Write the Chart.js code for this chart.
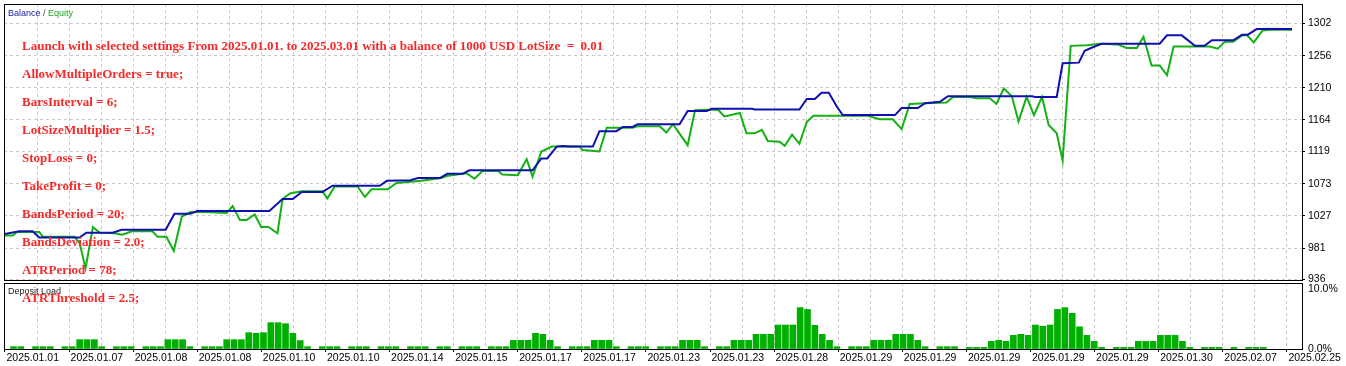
<!DOCTYPE html>
<html>
<head>
<meta charset="utf-8">
<script src="https://cdn.jsdelivr.net/npm/chart.js@4.4.1/dist/chart.umd.min.js"></script>
<style>
  html, body { margin: 0; padding: 0; background: #fff; }
  #wrap { position: relative; width: 1346px; height: 366px; overflow: hidden; }
  canvas { position: absolute; left: 0; }
  #main { top: 0; }
  #load { top: 282px; }
  .note { position: absolute; left: 22px; font: bold 13px "Liberation Serif", "Times New Roman", serif; color: #f52a2a; line-height: 13px; white-space: pre; }
</style>
</head>
<body>
<div id="wrap">
  <canvas id="main" width="1346" height="282"></canvas>
  <canvas id="load" width="1346" height="84"></canvas>
  <div id="notes"></div>
</div>
<script>
// x = deal slot, y = account value
const balance = [[-1.2,1001],[0.8,1005],[2.6,1005],[3.5,996],[9.0,996],[9.9,1003],[13.5,1003],[14.7,1007],[20.7,1007],
  [21.9,1030],[24.0,1030],[25.0,1034],[34.8,1034],[36.6,1051],[38.0,1051],[39.2,1061],[42.0,1061],[43.4,1070],[49.8,1070],
  [50.8,1077],[54.0,1078],[55.0,1081],[58.0,1081],[59.0,1087],[61.1,1087],[62.0,1092],[70.6,1092],[71.8,1109],[72.6,1109],
  [73.9,1126],[74.7,1127],[75.6,1126],[78.8,1126],[79.7,1148],[82.0,1148],[82.9,1154],[84.2,1154],[84.9,1158],[90.6,1158],
  [91.7,1177],[94.3,1177],[95.0,1180],[100.5,1180],[100.8,1179],[106.9,1179],[107.9,1194],[109.0,1194],[109.9,1203],
  [110.9,1203],[112.0,1183],[112.8,1171],[119.9,1171],[120.8,1181],[123.0,1181],[124.0,1188],[126.0,1190],[127.1,1198],
  [138.6,1198],[138.9,1197],[141.9,1197],[142.7,1245],[144.9,1246],[145.7,1263],[146.8,1268],[148.0,1273],[155.9,1273],
  [156.9,1285],[158.9,1285],[160.7,1270],[162.0,1270],[163.0,1278],[165.9,1278],[167.1,1286],[167.9,1286],[169.1,1294],[173.9,1294]];

const equity = [[-1.2,999],[-0.1,999],[0.5,1004],[3.5,1004],[4.0,997],[8.3,997],[9.0,988],[9.8,952],[10.8,1011],[11.7,1003],
  [13.7,1002],[14.8,1000],[16.1,1005],[18.9,1005],[19.6,997],[20.8,997],[21.8,977],[22.9,1026],[24.0,1032],[25.3,1033],
  [29.0,1031],[29.8,1041],[30.8,1021],[31.7,1021],[32.8,1029],[33.7,1011],[34.7,1011],[35.9,1002],[36.6,1051],[37.6,1059],
  [39.2,1062],[42.0,1062],[42.7,1052],[43.7,1069],[46.8,1069],[47.8,1054],[48.7,1065],[50.9,1065],[52.1,1074],[55.5,1077],
  [58.2,1081],[58.9,1084],[61.6,1088],[62.7,1080],[63.8,1091],[65.9,1091],[66.5,1086],[68.6,1085],[69.8,1108],[70.6,1083],
  [71.8,1119],[73.2,1126],[77.0,1126],[77.4,1121],[79.7,1119],[80.7,1153],[84.2,1153],[84.9,1155],[87.9,1155],[88.8,1146],
  [89.7,1158],[91.7,1128],[92.7,1178],[95.8,1179],[96.7,1169],[98.8,1174],[99.7,1145],[100.8,1145],[101.8,1150],[102.6,1134],
  [104.2,1133],[104.9,1127],[105.9,1143],[106.9,1130],[107.9,1161],[108.8,1170],[116.2,1170],[117.8,1165],[119.6,1165],
  [120.8,1151],[121.9,1187],[124.0,1188],[126.9,1189],[127.8,1197],[130.1,1197],[131.0,1195],[132.8,1195],[133.7,1187],
  [134.7,1209],[135.8,1198],[136.7,1162],[137.8,1197],[138.8,1171],[139.9,1197],[140.8,1157],[141.9,1145],[142.7,1106],
  [143.8,1270],[146.0,1271],[147.8,1273],[150.2,1272],[151.4,1267],[152.8,1267],[153.7,1283],[154.8,1242],[155.9,1242],
  [156.9,1228],[157.8,1269],[162.7,1269],[163.8,1266],[164.8,1276],[165.9,1276],[167.1,1285],[167.8,1285],[168.7,1275],
  [169.9,1292],[170.9,1293],[173.9,1293]];

// deposit load %, one per slot (0 = no bar)
const load = [
  .39,.39,0,.39,.39,.39,0,.39,.39,1.56, 1.56,1.56,.39,0,.39,.39,.39,0,.39,.39,
  .39,1.56,1.56,1.56,.39,0,.39,.39,.39,1.56, 1.56,1.56,2.72,2.61,2.72,4.39,4.39,4.22,2.61,1.4,
  .39,0,.39,.39,.39,0,.39,.39,.39,0, .39,.39,.39,0,.39,.39,.39,0,.39,.39,
  0,.39,.39,.39,0,.39,.39,.39,1.45,1.45, 1.45,2.61,2.45,1.45,.39,0,.39,.39,.39,1.45,
  1.45,1.45,.39,0,.39,.39,.39,0,.39,.39, .39,1.45,1.45,1.45,.39,0,.39,.39,1.45,1.45,
  1.45,2.45,2.45,2.45,4.0,4.0,4.0,6.9,6.6,3.95, 2.45,1.45,.39,0,.39,.39,.39,1.45,1.45,1.45,
  2.45,2.45,2.45,1.45,.39,0,.39,.39,.39,0, .28,.28,.28,1.28,1.45,1.28,2.28,2.45,2.28,4.0,
  3.8,4.0,6.6,6.9,5.95,3.7,2.28,1.28,.28,0, .28,.28,.28,1.28,1.28,1.28,2.28,2.28,2.28,1.28,
  .28,0,.28,.28,.28,0,.28,0,.28,.28, .28];

const xLabels = ['2025.01.01','2025.01.07','2025.01.08','2025.01.08','2025.01.10','2025.01.10','2025.01.14',
  '2025.01.15','2025.01.17','2025.01.17','2025.01.23','2025.01.23','2025.01.28','2025.01.29','2025.01.29',
  '2025.01.29','2025.01.29','2025.01.29','2025.01.30','2025.02.07','2025.02.25'];
const yTicks = [936, 981, 1027, 1073, 1119, 1164, 1210, 1256, 1302];
const loadTicks = [0, 10];

const notes = [
  'Launch with selected settings From 2025.01.01. to 2025.03.01 with a balance of 1000 USD LotSize  =  0.01',
  'AllowMultipleOrders = true;',
  'BarsInterval = 6;',
  'LotSizeMultiplier = 1.5;',
  'StopLoss = 0;',
  'TakeProfit = 0;',
  'BandsPeriod = 20;',
  'BandsDeviation = 2.0;',
  'ATRPeriod = 78;',
  'ATRThreshold = 2.5;'
];

const X_MIN = -1.29, X_MAX = 175.26;
const GRID_START = -1.156, GRID_STEP = 4.359;
const gridTicks = [];
for (let k = 0; k <= 40; k++) gridTicks.push(GRID_START + k * GRID_STEP);

const AXIS_FONT = { family: '"Liberation Sans Narrow", "Liberation Sans", Arial, sans-serif', size: 10.5 };
const GRID = '#c8c8c8';

// drop the padding chart.js reserves for half-labels at the axis ends
function noPad(s) {
  s.paddingTop = 0; s.paddingBottom = 0; s.paddingLeft = 0; s.paddingRight = 0;
}

function xScale(withLabels) {
  return {
    type: 'linear', min: X_MIN, max: X_MAX, offset: false,
    afterBuildTicks: s => { s.ticks = gridTicks.map(v => ({ value: v })); },
    afterFit: s => { s.height = withLabels ? 17 : 0; noPad(s); },
    grid: {
      color: GRID, offset: false, drawTicks: withLabels, tickLength: 3, tickBorderDash: [],
      tickColor: c => c.index % 2 === 0 ? '#000' : 'rgba(0,0,0,0)'
    },
    border: { display: false, dash: [3, 3] },
    ticks: {
      display: withLabels, autoSkip: false, maxRotation: 0, minRotation: 0, align: 'start',
      padding: 0, labelOffset: 1.5, color: '#000', font: AXIS_FONT,
      callback: (v, i) => i % 2 === 0 ? xLabels[i / 2] : ''
    }
  };
}

const frame = {
  id: 'frame',
  afterDraw(chart, args, opts) {
    const { ctx, chartArea: a } = chart;
    ctx.save();
    ctx.strokeStyle = '#000';
    ctx.lineWidth = 1;
    ctx.strokeRect(Math.round(a.left) + 0.5, Math.round(a.top) + 0.5, Math.round(a.right - a.left), Math.round(a.bottom - a.top));
    ctx.font = '9px "Liberation Sans", Arial, sans-serif';
    ctx.textBaseline = 'alphabetic';
    let x = 8;
    opts.title.forEach(([txt, col]) => {
      ctx.fillStyle = col;
      ctx.fillText(txt, x, opts.titleY);
      x += ctx.measureText(txt).width;
    });
    ctx.restore();
  }
};

new Chart(document.getElementById('main'), {
  type: 'line',
  data: {
    datasets: [
      { label: 'Balance', data: balance.map(([x, y]) => ({ x, y })), borderColor: '#1010b0', borderWidth: 2, pointRadius: 0, tension: 0 },
      { label: 'Equity', data: equity.map(([x, y]) => ({ x, y })), borderColor: '#14b014', borderWidth: 2, pointRadius: 0, tension: 0 }
    ]
  },
  options: {
    responsive: false, animation: false, devicePixelRatio: 1,
    layout: { padding: { left: 4, top: 4, right: 0, bottom: 2 } },
    plugins: {
      legend: { display: false }, tooltip: { enabled: false },
      frame: { titleY: 16, title: [['Balance', '#1818a0'], [' / ', '#505050'], ['Equity', '#18a818']] }
    },
    scales: {
      x: xScale(false),
      y: {
        position: 'right', min: 935.3, max: 1329.8,
        afterBuildTicks: s => { s.ticks = yTicks.map(v => ({ value: v })); },
        afterFit: s => { s.width = 44; noPad(s); },
        grid: { color: GRID, drawTicks: true, tickLength: 3, tickColor: '#000', tickBorderDash: [] },
        border: { display: false, dash: [3, 3] },
        ticks: { padding: 3, color: '#000', font: AXIS_FONT, callback: v => String(v) }
      }
    }
  },
  plugins: [frame]
});

new Chart(document.getElementById('load'), {
  type: 'bar',
  data: {
    datasets: [{
      label: 'Deposit Load',
      data: load.map((v, i) => ({ x: i, y: v || null })),
      backgroundColor: '#00b000', borderWidth: 0, barThickness: 6
    }]
  },
  options: {
    responsive: false, animation: false, devicePixelRatio: 1,
    layout: { padding: { left: 4, top: 1, right: 0, bottom: 0 } },
    plugins: {
      legend: { display: false }, tooltip: { enabled: false },
      frame: { titleY: 12, title: [['Deposit Load', '#202020']] }
    },
    scales: {
      x: xScale(true),
      y: {
        position: 'right', min: 0, max: 11,
        afterBuildTicks: s => { s.ticks = loadTicks.map(v => ({ value: v })); },
        afterFit: s => { s.width = 44; noPad(s); },
        grid: { drawOnChartArea: false, drawTicks: false },
        border: { display: false },
        ticks: { padding: 6, color: '#000', font: AXIS_FONT, callback: v => v.toFixed(1) + '%' }
      }
    }
  },
  plugins: [frame]
});

const box = document.getElementById('notes');
notes.forEach((t, k) => {
  const d = document.createElement('div');
  d.className = 'note';
  d.textContent = t;
  d.style.top = (50 + 28 * k - 10.9) + 'px';
  box.appendChild(d);
});
</script>
</body>
</html>
